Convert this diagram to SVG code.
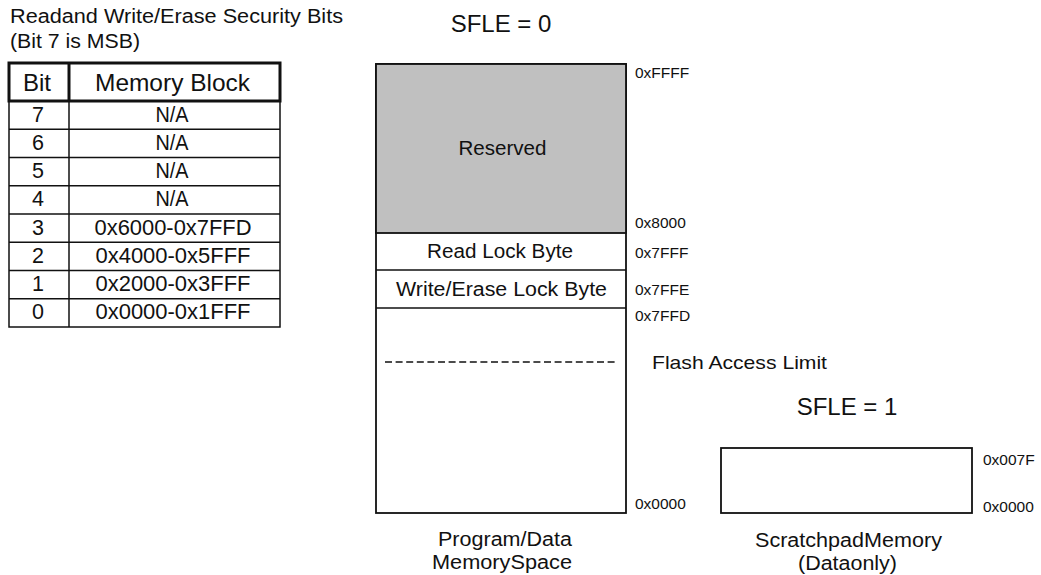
<svg xmlns="http://www.w3.org/2000/svg" width="1041" height="575" viewBox="0 0 1041 575">
<style>
text{font-family:"Liberation Sans",Arial,sans-serif;fill:#111}
.t{font-size:20px}
.th{font-size:24px;text-anchor:middle}
.td{font-size:21.5px;text-anchor:middle}
.big{font-size:24px;text-anchor:middle}
.lbl{font-size:19.5px;text-anchor:middle}
.cap{font-size:20px;text-anchor:middle}
.adr{font-size:15.5px}
.thick{fill:none;stroke:#111;stroke-width:3}
.thin{fill:none;stroke:#111;stroke-width:1.5}
.box{fill:#fff;stroke:#111;stroke-width:1.8}
</style>
<rect width="1041" height="575" fill="#fff"/>
<g id="title">
<text class="t" x="10" y="23" textLength="333" lengthAdjust="spacingAndGlyphs">Readand Write/Erase Security Bits</text>
<text class="t" x="10" y="48" textLength="130" lengthAdjust="spacingAndGlyphs">(Bit 7 is MSB)</text>
</g>
<g id="security-table">
<rect class="thin" x="9" y="101" width="271" height="226"/>
<line class="thin" x1="69" y1="101" x2="69" y2="327"/>
<line class="thin" x1="9" y1="129.25" x2="280" y2="129.25"/>
<line class="thin" x1="9" y1="157.5" x2="280" y2="157.5"/>
<line class="thin" x1="9" y1="185.75" x2="280" y2="185.75"/>
<line class="thin" x1="9" y1="214" x2="280" y2="214"/>
<line class="thin" x1="9" y1="242.25" x2="280" y2="242.25"/>
<line class="thin" x1="9" y1="270.5" x2="280" y2="270.5"/>
<line class="thin" x1="9" y1="298.75" x2="280" y2="298.75"/>
<rect class="thick" x="9" y="63" width="271" height="38"/>
<line class="thick" x1="69" y1="63" x2="69" y2="101"/>
<text class="th" x="37" y="91">Bit</text>
<text class="th" x="172.5" y="91" textLength="155" lengthAdjust="spacingAndGlyphs">Memory Block</text>
<text class="td" x="38" y="121.5">7</text><text class="td" x="172" y="121.5" textLength="33" lengthAdjust="spacingAndGlyphs">N/A</text>
<text class="td" x="38" y="149.8">6</text><text class="td" x="172" y="149.8" textLength="33" lengthAdjust="spacingAndGlyphs">N/A</text>
<text class="td" x="38" y="178">5</text><text class="td" x="172" y="178" textLength="33" lengthAdjust="spacingAndGlyphs">N/A</text>
<text class="td" x="38" y="206.3">4</text><text class="td" x="172" y="206.3" textLength="33" lengthAdjust="spacingAndGlyphs">N/A</text>
<text class="td" x="38" y="234.5">3</text><text class="td" x="173" y="234.5" textLength="157" lengthAdjust="spacingAndGlyphs">0x6000-0x7FFD</text>
<text class="td" x="38" y="262.8">2</text><text class="td" x="173" y="262.8" textLength="155" lengthAdjust="spacingAndGlyphs">0x4000-0x5FFF</text>
<text class="td" x="38" y="291">1</text><text class="td" x="173" y="291" textLength="155" lengthAdjust="spacingAndGlyphs">0x2000-0x3FFF</text>
<text class="td" x="38" y="319.3">0</text><text class="td" x="173" y="319.3" textLength="155" lengthAdjust="spacingAndGlyphs">0x0000-0x1FFF</text>
</g>
<g id="sfle0-label"><text class="big" x="501" y="32">SFLE = 0</text></g>
<g id="program-memory">
<rect class="box" x="376" y="64" width="250" height="449"/>
<rect x="376" y="64" width="250" height="169" fill="#c0c0c0" stroke="#111" stroke-width="1.8"/>
<line class="thin" x1="376" y1="270" x2="626" y2="270"/>
<line class="thin" x1="376" y1="308" x2="626" y2="308"/>
<line x1="385" y1="362" x2="618" y2="362" stroke="#111" stroke-width="1.4" stroke-dasharray="7,3.6"/>
<text class="lbl" x="502.5" y="155" textLength="88" lengthAdjust="spacingAndGlyphs">Reserved</text>
<text class="lbl" x="500" y="258" textLength="146" lengthAdjust="spacingAndGlyphs">Read Lock Byte</text>
<text class="lbl" x="501.5" y="296" textLength="211" lengthAdjust="spacingAndGlyphs">Write/Erase Lock Byte</text>
<text class="adr" x="635" y="78">0xFFFF</text>
<text class="adr" x="635" y="228">0x8000</text>
<text class="adr" x="635" y="258">0x7FFF</text>
<text class="adr" x="635" y="295">0x7FFE</text>
<text class="adr" x="635" y="321">0x7FFD</text>
<text class="adr" x="635" y="509">0x0000</text>
<text x="652" y="369" style="font-size:19px" textLength="175" lengthAdjust="spacingAndGlyphs">Flash Access Limit</text>
<text class="cap" x="505" y="546" textLength="134" lengthAdjust="spacingAndGlyphs">Program/Data</text>
<text class="cap" x="502" y="569" textLength="140" lengthAdjust="spacingAndGlyphs">MemorySpace</text>
</g>
<g id="sfle1-label"><text class="big" x="847" y="415">SFLE = 1</text></g>
<g id="scratchpad-memory">
<rect class="box" x="721" y="448" width="251" height="65"/>
<text class="adr" x="983" y="465">0x007F</text>
<text class="adr" x="983" y="512">0x0000</text>
<text class="cap" x="848.5" y="547" textLength="187" lengthAdjust="spacingAndGlyphs">ScratchpadMemory</text>
<text class="cap" x="847.5" y="570" textLength="99" lengthAdjust="spacingAndGlyphs">(Dataonly)</text>
</g>
<g id="connectors"></g>
</svg>
